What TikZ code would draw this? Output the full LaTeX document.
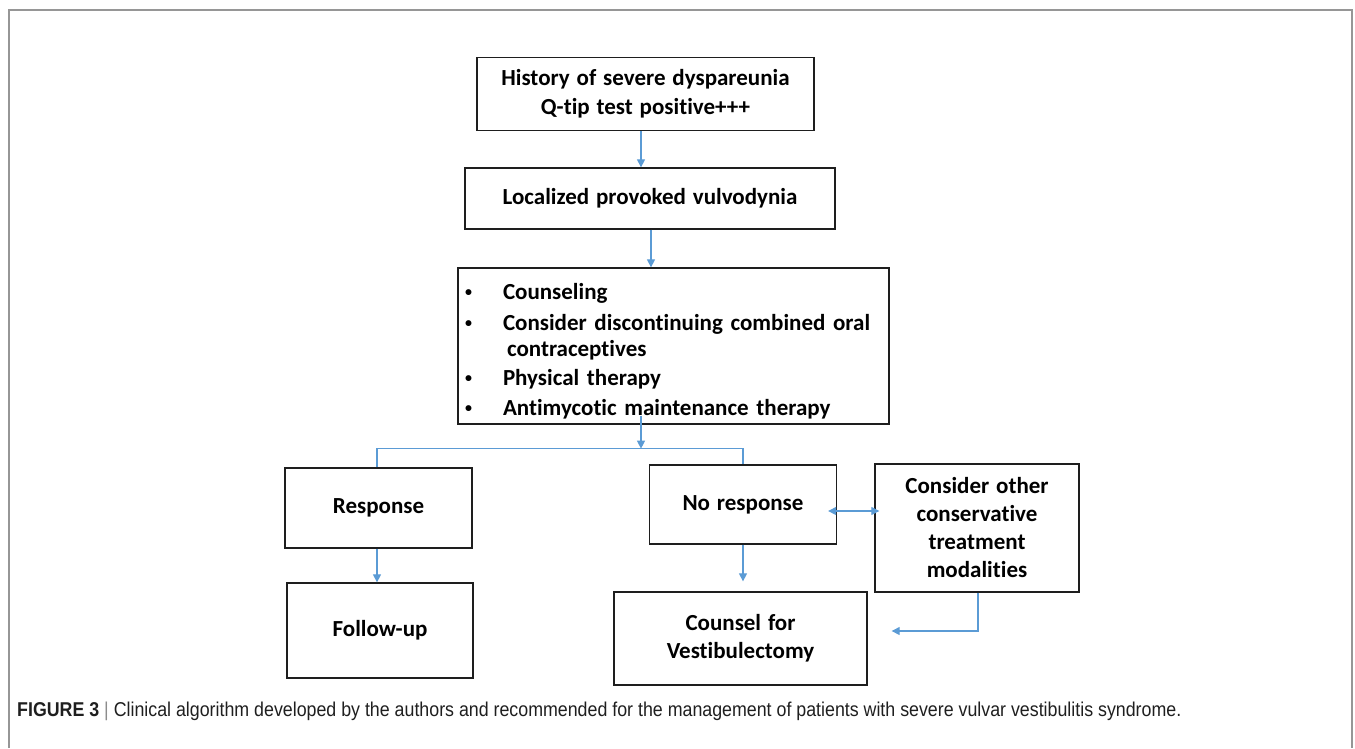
\documentclass[tikz,border=0pt]{standalone}
\usepackage{fontspec}
\setmainfont{Carlito}[Ligatures=NoCommon]
\newfontfamily\capfont[FakeStretch=0.89]{Liberation Sans}
\usetikzlibrary{arrows.meta,calc}
\definecolor{arrblue}{RGB}{91,155,213}
\definecolor{framegray}{RGB}{150,150,150}
\definecolor{boxline}{RGB}{30,30,30}
\newcommand{\blt}{\makebox[38pt][l]{\fontsize{14}{14}\selectfont\raisebox{3pt}{\textbullet}}}
\newcommand{\boxfont}{\bfseries\fontsize{23}{28}\selectfont\spaceskip=0.3em plus 0.1em minus 0.05em\relax}
\begin{document}
\begin{tikzpicture}[x=1pt,y=-1pt,
  font=\boxfont,
  box/.style={draw=boxline, line width=1.3pt, inner sep=0pt, align=center},
  arr/.style={draw=arrblue, line width=1.2pt, -{Triangle[length=8pt,width=8pt]}},
  arrboth/.style={draw=arrblue, line width=1.2pt, {Triangle[length=8pt,width=8pt]}-{Triangle[length=8pt,width=8pt]}},
  conn/.style={draw=arrblue, line width=1.2pt}]
\useasboundingbox (0,0) rectangle (1355,748);
\draw[framegray, line width=1.5pt] (9,748) -- (9,10) -- (1352,10) -- (1352,748);

\node[box, minimum width=337pt, minimum height=73pt] (b1) at (645.5,94)
  {History of severe dyspareunia\\[1pt]Q-tip test positive+++};
\node[box, minimum width=370pt, minimum height=61pt] (b2) at (650,198.5)
  {Localized provoked vulvodynia};
\node[box, minimum width=431pt, minimum height=156pt, text width=417pt, align=left, inner xsep=7pt] (b3) at (673.5,346)
  {\rule{0pt}{27pt}\blt Counseling\\[3pt]
   \blt Consider discontinuing combined oral\\[-2pt]
   \makebox[38pt][l]{}\hspace{4pt}contraceptives\\[1pt]
   \blt Physical therapy\\[2pt]
   \blt Antimycotic maintenance therapy};
\node[box, minimum width=187pt, minimum height=80pt] (resp) at (378.5,508) {Response};
\node[box, minimum width=186pt, minimum height=95pt] (fu) at (380,630.5) {Follow-up};
\node[box, minimum width=187pt, minimum height=79pt] (nr) at (743,504.5) {No response};
\node[box, minimum width=204pt, minimum height=128pt] (co) at (977,528)
  {Consider other\\conservative\\treatment\\modalities};
\node[box, minimum width=253pt, minimum height=93pt] (cv) at (740.5,638.5)
  {Counsel for\\Vestibulectomy};

% connectors
\draw[arr] ([xshift=-4.5pt]b1.south) -- ([xshift=-4.5pt]b1.south |- b2.north);
\draw[arr] ([xshift=1pt]b2.south) -- ([xshift=1pt]b2.south |- b3.north);
\coordinate (sp) at ($(b3.south)+(-32.5,24)$);
\coordinate (st) at ($(b3.south)+(-32.5,-9)$);
\draw[arr] (st) -- (sp);
\draw[conn] ([xshift=-1.5pt]resp.north) |- (sp) -| (nr.north);
\draw[arr] ([xshift=-1.5pt]resp.south) -- ([xshift=-1.5pt]resp.south |- fu.north);
\coordinate (nra) at ($(nr.east)+(-9,6.5)$);
\coordinate (coa) at ($(nra -| co.west)+(5,0)$);
\draw[arrboth] (nra) -- (coa);
\coordinate (nrc) at ($(nr.south |- cv.north)+(0,-10)$);
\draw[arr] (nr.south) -- (nrc);
\coordinate (cve) at ($(cv.east)+(24,-7.5)$);
\draw[arr] ([xshift=1pt]co.south) |- (cve);

\node[anchor=base west, inner sep=0pt, font=\capfont\mdseries\fontsize{20}{22}\selectfont, text=black!88] (cap) at (17,716)
  {\textbf{FIGURE 3} {\color{black!45}|} Clinical algorithm developed by the authors and recommended for the management of patients with severe vulvar vestibulitis syndrome.};
\end{tikzpicture}
\end{document}
